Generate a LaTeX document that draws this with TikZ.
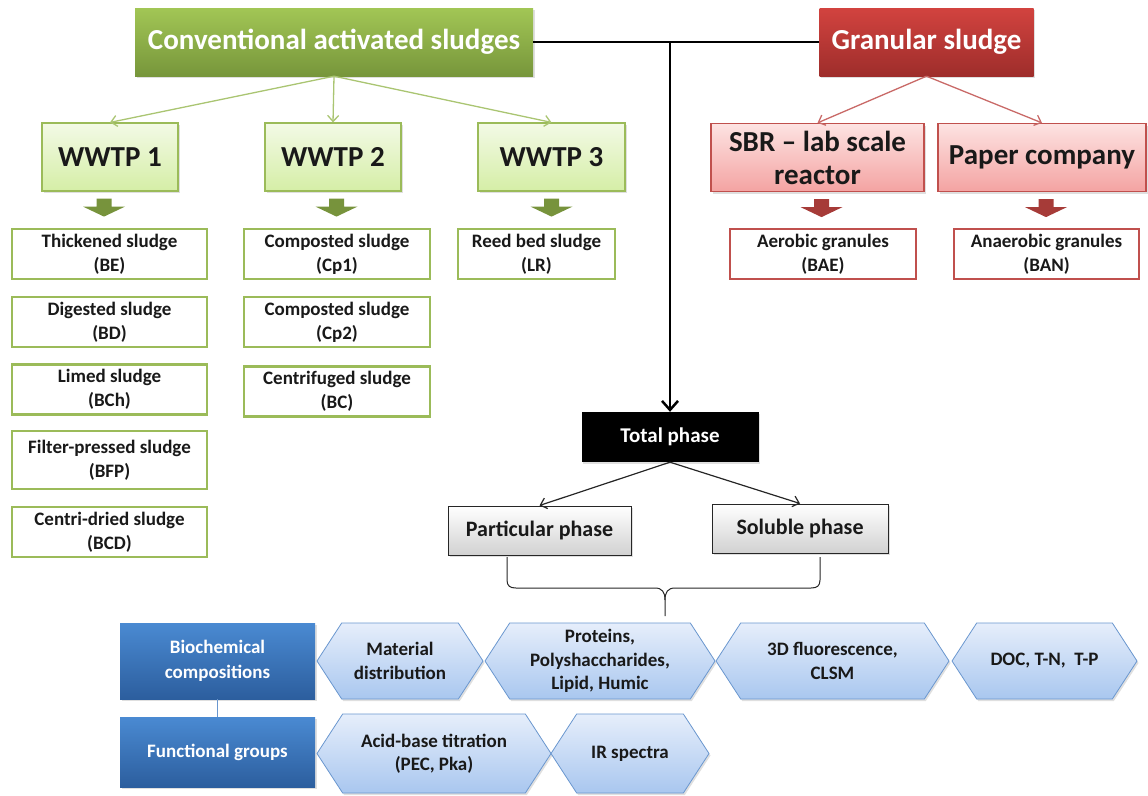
\documentclass[tikz,border=0pt]{standalone}
\usepackage{fontspec}
\setmainfont{Carlito}
\usetikzlibrary{arrows.meta,positioning,shapes.symbols,shadows,calc}

\definecolor{grnTop}{HTML}{A2C655}
\definecolor{grnBot}{HTML}{77963B}
\definecolor{grnLine}{HTML}{9BBB59}
\definecolor{grnPale}{HTML}{F3FAE6}
\definecolor{grnPaleB}{HTML}{D5EEA6}
\definecolor{grnArr}{HTML}{77933C}
\definecolor{redTop}{HTML}{D2433F}
\definecolor{redBot}{HTML}{9E2D2B}
\definecolor{redLine}{HTML}{C0504D}
\definecolor{redPale}{HTML}{FDE3E2}
\definecolor{redPaleB}{HTML}{F4A3A2}
\definecolor{redArr}{HTML}{A63B38}
\definecolor{bluTop}{HTML}{4A8AD2}
\definecolor{bluBot}{HTML}{2C5E9E}
\definecolor{hexTop}{HTML}{E6EEFB}
\definecolor{hexBot}{HTML}{A9C7EF}
\definecolor{hexLine}{HTML}{6A97CF}

\tikzset{
  every node/.style={align=center, inner sep=0pt, text=black!90},
  shade/.style={drop shadow={shadow xshift=1.5pt, shadow yshift=-2pt, opacity=0.25}},
  headgrn/.style={shade, top color=grnTop, bottom color=grnBot, text=white,
    font=\fontsize{29}{33}\selectfont\bfseries, minimum height=68},
  headred/.style={headgrn, top color=redTop, bottom color=redBot},
  plant/.style={shade, draw=grnLine, line width=1.2pt, top color=grnPale, bottom color=grnPaleB,
    font=\fontsize{29}{33}\selectfont\bfseries, minimum height=68},
  source/.style={plant, draw=redLine, top color=redPale, bottom color=redPaleB},
  sludge/.style={draw=grnLine, line width=2.5pt, fill=white,
    font=\fontsize{19}{24}\selectfont\bfseries, minimum height=50},
  granule/.style={sludge, draw=redLine, line width=2pt},
  phase/.style={shade, draw=black!85, line width=1pt, top color=white, bottom color=black!18,
    font=\fontsize{22}{26}\selectfont\bfseries, minimum height=49},
  blubox/.style={shade, top color=bluTop, bottom color=bluBot, text=white,
    font=\fontsize{19}{25}\selectfont\bfseries, minimum width=195},
  hexa/.style={shade, signal, signal to=west and east, signal pointer angle=114,
    draw=hexLine, line width=0.8pt, top color=hexTop, bottom color=hexBot,
    font=\fontsize{19}{23.5}\selectfont\bfseries, minimum height=76},
  grnarrow/.style={draw=grnLine!85, line width=1.3pt, -{Straight Barb[length=6,width=11]}},
  redarrow/.style={grnarrow, draw=redLine!85},
  blkarrow/.style={draw=black!85, line width=1.2pt, -{Straight Barb[length=6,width=11]}},
  dnarr/.pic={\fill[pic actions] (-7.5,0) -- (7.5,0) -- (7.5,8) -- (21,8) -- (0,18) -- (-21,8) -- (-7.5,8) -- cycle;}
}

\begin{document}
\begin{tikzpicture}[x=1pt, y=-1pt]
  \useasboundingbox (0,0) rectangle (1148,795);

  % sources
  \node[headgrn, minimum width=398] (conv) at (334,42) {Conventional activated sludges};
  \node[headred, minimum width=214] (gran) at (926.5,42) {Granular sludge};

  % plants
  \node[plant, minimum width=136] (w1) at (110,157) {WWTP 1};
  \node[plant, minimum width=136] (w2) at (333,157) {WWTP 2};
  \node[plant, minimum width=147] (w3) at (551.5,157) {WWTP 3};
  \node[source, minimum width=213] (sbr) at (817.5,157.5) {SBR -- lab scale\\reactor};
  \node[source, minimum width=208] (paper) at (1042,157.5) {Paper company};

  \draw[grnarrow] (conv.south) -- (w1.north);
  \draw[grnarrow] (conv.south) -- (w2.north);
  \draw[grnarrow] (conv.south) -- (w3.north);
  \draw[redarrow] (gran.south) -- (sbr.north);
  \draw[redarrow] (gran.south) -- (paper.north);

  \pic[fill=grnArr] at ($(w1.south)+(-6,7)$) {dnarr};
  \pic[fill=grnArr] at ($(w2.south)+(3.5,7)$) {dnarr};
  \pic[fill=grnArr] at ($(w3.south)+(0,7)$) {dnarr};
  \pic[fill=redArr] at ($(sbr.south)+(4,7)$) {dnarr};
  \pic[fill=redArr] at ($(paper.south)+(4,7)$) {dnarr};

  % sludges
  \node[sludge, minimum width=195] (be) at (109.5,254) {Thickened sludge\\(BE)};
  \node[sludge, minimum width=195] (bd) at (109.5,322) {Digested sludge\\(BD)};
  \node[sludge, minimum width=195] (bch) at (109.5,389.5) {Limed sludge\\(BCh)};
  \node[sludge, minimum width=195, minimum height=58] (bfp) at (109.5,460) {Filter-pressed sludge\\(BFP)};
  \node[sludge, minimum width=195] (bcd) at (109.5,532) {Centri-dried sludge\\(BCD)};
  \node[sludge, minimum width=186] (cp1) at (337,254) {Composted sludge\\(Cp1)};
  \node[sludge, minimum width=186] (cp2) at (337,322) {Composted sludge\\(Cp2)};
  \node[sludge, minimum width=186] (bc) at (337,391.5) {Centrifuged sludge\\(BC)};
  \node[sludge, minimum width=157] (lr) at (536.5,254) {Reed bed sludge\\(LR)};
  \node[granule, minimum width=186] (bae) at (823,254) {Aerobic granules\\(BAE)};
  \node[granule, minimum width=185] (ban) at (1046.5,254) {Anaerobic granules\\(BAN)};

  % phases
  \node[shade, fill=black, text=white, font=\fontsize{21}{24}\selectfont\bfseries,
    minimum width=177, minimum height=50] (total) at (670,437) {Total phase};
  \node[phase, minimum width=183] (part) at (539.5,530.5) {Particular phase};
  \node[phase, minimum width=176] (sol) at (800,528.5) {Soluble phase};

  \coordinate (jn) at (total.north |- conv.east);
  \draw[line width=2.5pt] (conv.east) -- (gran.west);
  \draw[line width=2.5pt, -{Straight Barb[length=9,width=16]}] (jn) -- (total.north);
  \draw[blkarrow] (total.south) -- (part.north);
  \draw[blkarrow] (total.south) -- (sol.north);

  % brace
  \draw[black!85, line width=1pt] (507,557) -- (507,580) .. controls (507,586) and (510,588) .. (516,588)
    -- (655,588) .. controls (662,588) and (665,592) .. (665,600) -- (665,616);
  \draw[black!85, line width=1pt] (820,557) -- (820,580) .. controls (820,586) and (817,588) .. (811,588)
    -- (675,588) .. controls (668,588) and (665,592) .. (665,600);

  % analyses
  \node[blubox, minimum height=76] (bio) at (217.5,661) {Biochemical\\compositions};
  \node[blubox, minimum height=70] (func) at (217.5,752) {Functional groups};
  \draw[hexLine, line width=1.2pt] (bio.south) -- (func.north);

  \node[hexa, minimum width=166] (mat) at (400,661) {Material\\distribution};
  \node[hexa, minimum width=230] (prot) at (600,661) {Proteins,\\Polyshaccharides,\\Lipid, Humic};
  \node[hexa, minimum width=233] (fluo) at (832.5,661) {3D fluorescence,\\CLSM};
  \node[hexa, minimum width=185] (doc) at (1044.5,661) {DOC, T-N,~ T-P};
  \node[hexa, minimum width=234, minimum height=79] (acid) at (434,753.5) {Acid-base titration\\(PEC, Pka)};
  \node[hexa, minimum width=158, minimum height=79] (ir) at (630,753.5) {IR spectra};
\end{tikzpicture}
\end{document}
